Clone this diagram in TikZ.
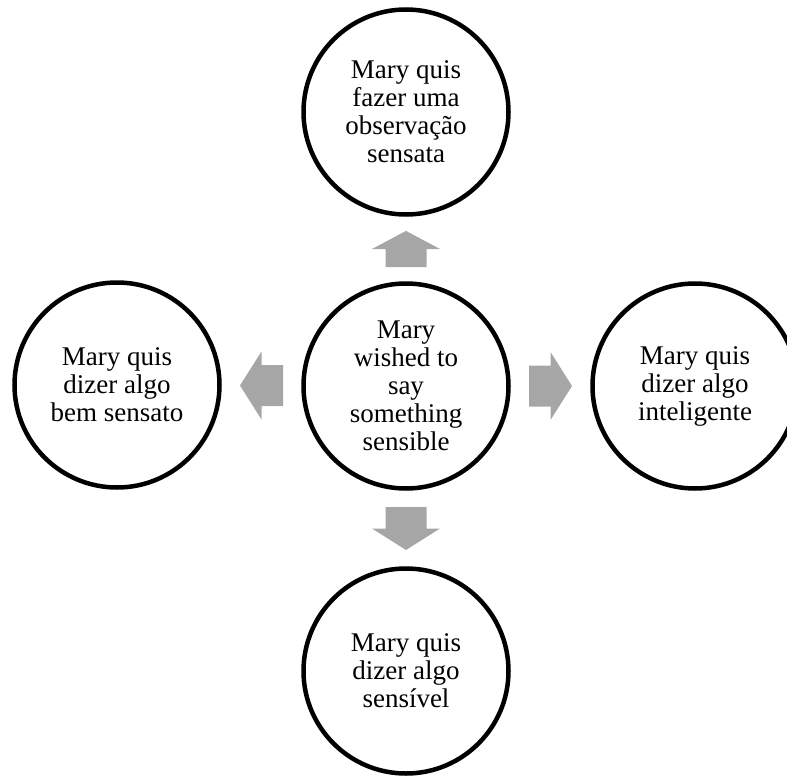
\documentclass[tikz,border=0pt]{standalone}
\usepackage{fontspec}
\setmainfont{Liberation Serif}
\usetikzlibrary{calc}
\definecolor{arrowgray}{RGB}{166,166,166}
\tikzset{
	idea/.style={circle, draw=black, line width=4.5pt, minimum size=205pt, inner sep=0pt, align=center, font=\fontsize{27}{28}\selectfont},
	blockarrow/.pic={
		\fill[arrowgray] (-21.5,-20.5) -- (0,-20.5) -- (0,-34) -- (21.5,0) -- (0,34) -- (0,20.5) -- (-21.5,20.5) -- cycle;
	}
}

\begin{document}
\begin{tikzpicture}[x=1pt, y=-1pt]
			%%%%% START %%%%%
			
			\clip (0, 0) rectangle (787, 776);
			
			\node[idea] (mid) at (406, 386) {Mary\\wished to\\say\\something\\sensible};
			
			\node[idea] (up) at (406, 112) {Mary quis\\fazer uma\\observação\\sensata};
			\node[idea] (left) at (117, 385) {Mary quis\\dizer algo\\bem sensato};
			\node[idea] (right) at (695, 386) {Mary quis\\dizer algo\\inteligente};
			\node[idea] (down) at (406, 671) {Mary quis\\dizer algo\\sensível};
			
			\pic[rotate=90, xscale=0.84] at ($(mid.north)!0.5!(up.south)$) {blockarrow};
			\pic[rotate=180] at ($(mid.west)!0.5!(left.east)$) {blockarrow};
			\pic at ($(mid.east)!0.5!(right.west)$) {blockarrow};
			\pic[rotate=-90] at ($(mid.south)!0.5!(down.north)$) {blockarrow};
			
			%%%%% END %%%%%
		\end{tikzpicture}
\end{document}
